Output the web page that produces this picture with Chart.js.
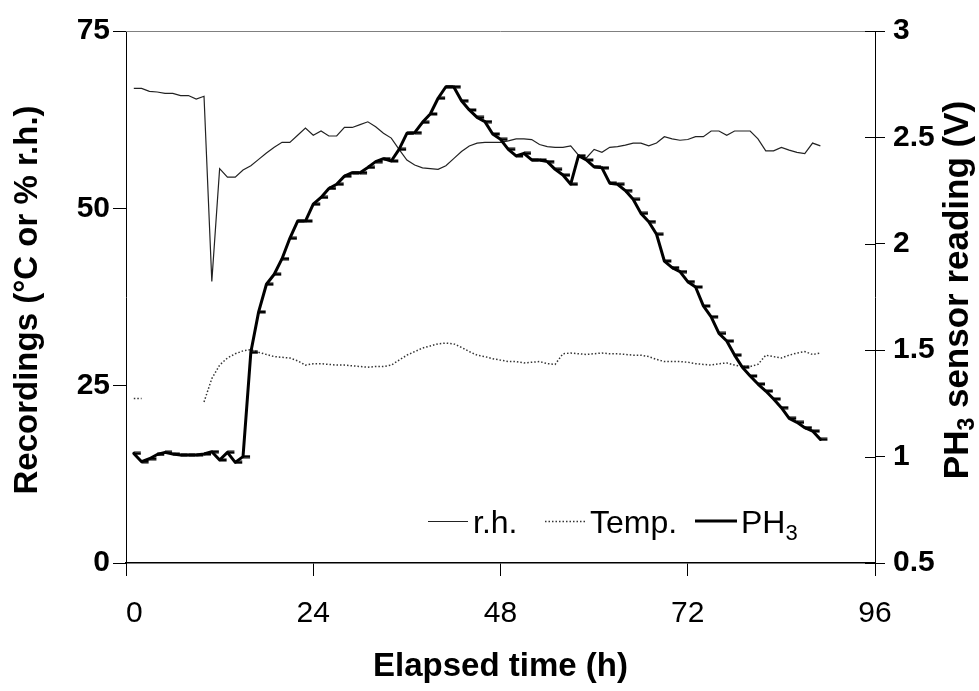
<!DOCTYPE html>
<html>
<head>
<meta charset="utf-8">
<script src="https://cdn.jsdelivr.net/npm/chart.js@4/dist/chart.umd.min.js"></script>
<style>
  html, body { margin: 0; padding: 0; background: #fff; }
  #wrap { width: 979px; height: 691px; }
</style>
</head>
<body>
<div id="wrap"><canvas id="c" width="979" height="691"></canvas></div>
<script>
// ---- data ----
const hours = [1,2,3,4,5,6,7,8,9,10,11,12,13,14,15,16,17,18,19,20,21,22,23,24,25,26,27,28,29,30,
  31,32,33,34,35,36,37,38,39,40,41,42,43,44,45,46,47,48,49,50,51,52,53,54,55,56,57,58,59,60,
  61,62,63,64,65,66,67,68,69,70,71,72,73,74,75,76,77,78,79,80,81,82,83,84,85,86,87,88,89];

const rhValues = [66.9,66.9,66.5,66.4,66.2,66.2,65.9,65.9,65.4,65.8,
  39.7,55.6,54.4,54.4,55.4,56.0,56.9,57.8,58.6,59.3,
  59.3,60.3,61.3,60.3,60.9,60.2,60.2,61.4,61.4,61.8,
  62.2,61.5,60.6,59.9,58.3,56.8,56.1,55.7,55.6,55.5,
  56.0,57.0,58.0,58.8,59.2,59.3,59.3,59.3,59.5,59.8,
  59.8,59.7,59.0,58.7,58.6,58.6,58.8,57.5,57.1,58.3,
  57.9,58.6,58.7,58.9,59.2,59.2,58.8,59.2,60.1,59.8,
  59.6,59.7,60.1,60.1,60.9,60.9,60.3,60.9,60.9,60.9,
  59.8,58.1,58.1,58.6,58.2,57.9,57.7,59.2,58.8];

const tempValues = [23.2,23.2,null,null,null,null,null,null,null,22.7,
  26.0,27.9,28.9,29.5,29.9,30.1,29.7,29.4,29.1,29.0,
  28.9,28.5,27.9,28.1,28.1,28.0,27.9,27.9,27.8,27.7,
  27.6,27.7,27.7,27.9,28.6,29.3,29.8,30.3,30.6,30.9,
  31.0,30.9,30.4,29.8,29.3,29.1,28.8,28.6,28.4,28.4,
  28.2,28.3,28.4,28.1,28.0,29.5,29.6,29.5,29.4,29.5,
  29.6,29.5,29.5,29.4,29.3,29.3,29.1,28.7,28.4,28.4,
  28.4,28.3,28.1,28.0,27.9,28.1,28.2,27.9,27.7,27.7,
  28.0,29.3,29.1,28.9,29.3,29.6,29.8,29.4,29.6];

const ph3Values = [1.015,0.976,0.99,1.01,1.02,1.012,1.008,1.008,1.008,1.012,
  1.023,0.984,1.02,0.973,1.0,1.49,1.68,1.81,1.857,1.93,
  2.026,2.107,2.107,2.186,2.218,2.26,2.28,2.318,2.334,2.334,
  2.359,2.386,2.40,2.389,2.444,2.519,2.522,2.571,2.61,2.684,
  2.738,2.738,2.672,2.629,2.594,2.574,2.516,2.491,2.444,2.413,
  2.425,2.394,2.394,2.386,2.35,2.323,2.28,2.414,2.394,2.362,
  2.357,2.285,2.28,2.25,2.209,2.143,2.104,2.045,1.919,1.888,
  1.869,1.822,1.797,1.708,1.657,1.579,1.543,1.477,1.42,1.379,
  1.341,1.308,1.271,1.23,1.18,1.161,1.136,1.12,1.081];

const xTicks = [0, 24, 48, 72, 96];
const leftTicks = [0, 25, 50, 75];
const rightTicks = [0.5, 1, 1.5, 2, 2.5, 3];

const seriesNames = ['r.h.', 'Temp.', 'PH'];

// ---- helpers ----
const pts = vals => hours.map((h, i) => ({ x: h, y: vals[i] }));
const FONT = "'Liberation Sans', Arial, sans-serif";

// dash marker drawn to the right of each PH3 point
const dashMark = document.createElement('canvas');
dashMark.width = 16; dashMark.height = 4;
(function () {
  const g = dashMark.getContext('2d');
  g.fillStyle = '#000';
  g.fillRect(8, 0.5, 7, 3);
})();

const decor = {
  id: 'decor',
  afterDraw(chart) {
    const ctx = chart.ctx, a = chart.chartArea;
    ctx.save();
    // top frame line
    ctx.strokeStyle = '#808080';
    ctx.lineWidth = 1;
    ctx.beginPath();
    ctx.moveTo(a.left, a.top + 0.5);
    ctx.lineTo(a.right, a.top + 0.5);
    ctx.stroke();
    // inner part of right-axis tick marks (ticks cross the axis)
    const y2 = chart.scales.y2;
    ctx.strokeStyle = '#000';
    y2.ticks.forEach(t => {
      const py = Math.round(y2.getPixelForValue(t.value)) + 0.5;
      ctx.beginPath();
      ctx.moveTo(a.right - 10, py);
      ctx.lineTo(a.right, py);
      ctx.stroke();
    });

    ctx.fillStyle = '#000';
    // x title
    ctx.font = "bold 33px " + FONT;
    ctx.textAlign = 'center';
    ctx.textBaseline = 'middle';
    ctx.fillText('Elapsed time (h)', (a.left + a.right) / 2, 667);
    // left title
    const cy = (a.top + a.bottom) / 2 + 3;
    ctx.save();
    ctx.translate(28, cy);
    ctx.rotate(-Math.PI / 2);
    ctx.fillText('Recordings (°C or % r.h.)', 0, 0);
    ctx.restore();
    // right title with subscript
    ctx.save();
    ctx.translate(956, cy - 10);
    ctx.rotate(-Math.PI / 2);
    ctx.textAlign = 'left';
    ctx.textBaseline = 'alphabetic';
    const big = "bold 35px " + FONT, small = "bold 23px " + FONT;
    ctx.font = big; const w1 = ctx.measureText('PH').width;
    ctx.font = small; const w2 = ctx.measureText('3').width;
    ctx.font = big; const w3 = ctx.measureText(' sensor reading (V)').width;
    let sx = -(w1 + w2 + w3) / 2;
    const base = 12;
    ctx.font = big; ctx.fillText('PH', sx, base); sx += w1;
    ctx.font = small; ctx.fillText('3', sx, base + 6); sx += w2;
    ctx.font = big; ctx.fillText(' sensor reading (V)', sx, base);
    ctx.restore();

    // legend (inside plot, bottom right)
    const ly = 521, lb = 533;
    ctx.textAlign = 'left';
    ctx.textBaseline = 'alphabetic';
    ctx.font = "32px " + FONT;
    // r.h.
    ctx.strokeStyle = '#222'; ctx.lineWidth = 1.2; ctx.setLineDash([]);
    ctx.beginPath(); ctx.moveTo(428, ly + 0.5); ctx.lineTo(468, ly + 0.5); ctx.stroke();
    ctx.fillText(seriesNames[0], 473, lb);
    // Temp.
    ctx.strokeStyle = '#333'; ctx.lineWidth = 1.5; ctx.setLineDash([1.5, 2]);
    ctx.beginPath(); ctx.moveTo(545, ly + 0.5); ctx.lineTo(586, ly + 0.5); ctx.stroke();
    ctx.setLineDash([]);
    ctx.fillText(seriesNames[1], 590, lb);
    // PH3
    ctx.strokeStyle = '#000'; ctx.lineWidth = 3;
    ctx.beginPath(); ctx.moveTo(695, ly); ctx.lineTo(737, ly); ctx.stroke();
    ctx.fillText(seriesNames[2], 741, lb);
    const wp = ctx.measureText(seriesNames[2]).width;
    ctx.font = "22px " + FONT;
    ctx.fillText('3', 741 + wp, lb + 7);
    ctx.restore();
  }
};

new Chart(document.getElementById('c'), {
  type: 'line',
  data: {
    datasets: [
      {
        label: 'PH3', data: pts(ph3Values), yAxisID: 'y2', order: 0,
        borderColor: '#000', borderWidth: 3, tension: 0,
        pointStyle: dashMark, pointRadius: 4, pointHoverRadius: 4,
        borderCapStyle: 'round', borderJoinStyle: 'round'
      },
      {
        label: 'r.h.', data: pts(rhValues), yAxisID: 'y', order: 1,
        borderColor: '#222', borderWidth: 1.2, tension: 0, pointRadius: 0
      },
      {
        label: 'Temp.', data: pts(tempValues), yAxisID: 'y', order: 2,
        borderColor: '#333', borderWidth: 1.5, borderDash: [1.5, 2], tension: 0,
        pointRadius: 0, spanGaps: false
      }
    ]
  },
  options: {
    responsive: false,
    animation: false,
    events: [],
    layout: { padding: { top: 31, left: 0, right: 0, bottom: 0 } },
    plugins: { legend: { display: false }, tooltip: { enabled: false } },
    scales: {
      x: {
        type: 'linear', min: xTicks[0], max: xTicks[xTicks.length - 1],
        afterBuildTicks: s => { s.ticks = xTicks.map(v => ({ value: v })); },
        afterFit: s => { s.height = 128; },
        grid: { drawOnChartArea: false, drawTicks: true, tickLength: 13, color: '#000', tickColor: '#000' },
        border: { display: true, color: '#000', width: 1.5 },
        ticks: {
          color: '#000', font: { family: FONT, size: 30 }, padding: 20, maxRotation: 0,
          callback: v => (v === 0 ? '  0' : String(v))
        }
      },
      y: {
        type: 'linear', position: 'left', min: leftTicks[0], max: leftTicks[leftTicks.length - 1],
        afterBuildTicks: s => { s.ticks = leftTicks.map(v => ({ value: v })); },
        afterFit: s => { s.width = 126; },
        grid: { drawOnChartArea: false, drawTicks: true, tickLength: 13, color: '#000', tickColor: '#000' },
        border: { display: true, color: '#000', width: 1 },
        ticks: { color: '#000', font: { family: FONT, size: 30, weight: 'bold' }, padding: 3, callback: v => String(v) }
      },
      y2: {
        type: 'linear', position: 'right', min: rightTicks[0], max: rightTicks[rightTicks.length - 1],
        afterBuildTicks: s => { s.ticks = rightTicks.map(v => ({ value: v })); },
        afterFit: s => { s.width = 104; },
        grid: { drawOnChartArea: false, drawTicks: true, tickLength: 10, color: '#000', tickColor: '#000' },
        border: { display: true, color: '#000', width: 1 },
        ticks: { color: '#000', font: { family: FONT, size: 30, weight: 'bold' }, padding: 8, callback: v => String(v) }
      }
    }
  },
  plugins: [decor]
});
</script>
</body>
</html>
